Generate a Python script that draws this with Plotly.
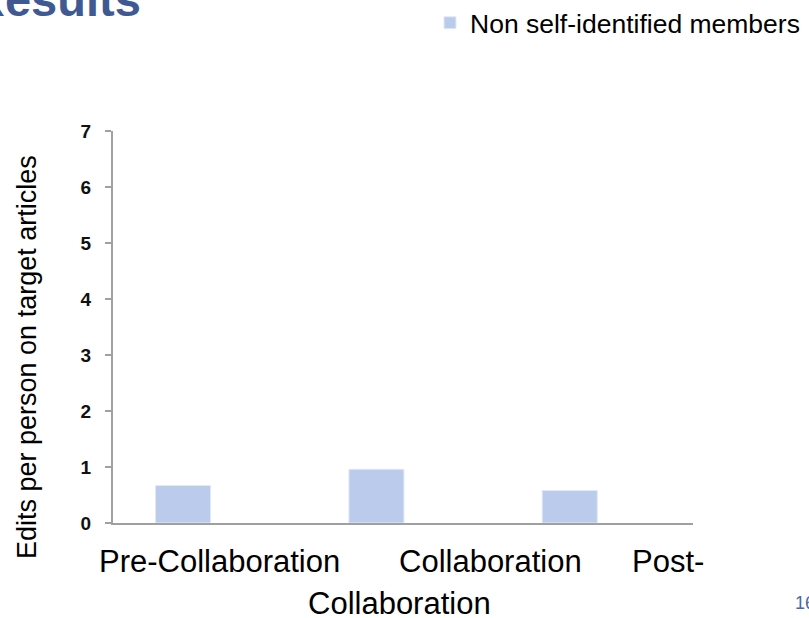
import plotly.graph_objects as go

# Edits per person on target articles, by collaboration phase
categories = ["Pre-Collaboration", "Collaboration", "Post-Collaboration"]
edits_non_self_identified = [0.67, 0.96, 0.58]
y_ticks = [0, 1, 2, 3, 4, 5, 6, 7]

W, H = 809, 618
L, R, T, B = 113, 116, 131, 95
PW, PH = W - L - R, H - T - B


def px_x(px):
    return (px - L) / PW


def px_y(py):
    return (H - B - py) / PH


FONT = "Liberation Sans, Arial, Helvetica, sans-serif"

fig = go.Figure()
fig.add_trace(go.Bar(
    x=categories,
    y=edits_non_self_identified,
    name="Non self-identified members",
    offset=-0.28,
    width=0.285,
    marker=dict(color="#BACBEB", line=dict(color="#E3EAF7", width=1)),
))

annotations = []
# Slide title (partly off the top-left corner)
annotations.append(dict(
    text="<b>Results</b>", x=px_x(-31), y=px_y(28), xref="paper", yref="paper",
    xanchor="left", yanchor="bottom", showarrow=False,
    font=dict(family=FONT, size=47, color="#3F5A93"),
))
# Y axis title
annotations.append(dict(
    text="Edits per person on target articles", x=px_x(27), y=px_y(357),
    xref="paper", yref="paper", xanchor="center", yanchor="middle",
    textangle=-90, showarrow=False,
    font=dict(family=FONT, size=27, color="#000000"),
))
# Phase labels, set as a wrapped centred text block below the axis
post_head, post_tail = categories[2].split("-", 1)
label_parts = [
    (categories[0], 219, 561),
    (categories[1], 490, 561),
    (post_head + "-", 668, 561),
    (post_tail, 399, 603),
]
for txt, cx, cy in label_parts:
    annotations.append(dict(
        text=txt, x=px_x(cx), y=px_y(cy), xref="paper", yref="paper",
        xanchor="center", yanchor="middle", showarrow=False,
        font=dict(family=FONT, size=31, color="#000000"),
    ))
# Slide number
annotations.append(dict(
    text="16", x=px_x(793), y=px_y(603), xref="paper", yref="paper",
    xanchor="left", yanchor="middle", showarrow=False,
    font=dict(family=FONT, size=18, color="#4A6AA3"),
))

fig.update_layout(
    width=W, height=H,
    margin=dict(l=L, r=R, t=T, b=B, autoexpand=False),
    paper_bgcolor="white", plot_bgcolor="white",
    showlegend=True,
    legend=dict(
        x=px_x(430), y=px_y(-1), xanchor="left", yanchor="top",
        font=dict(family=FONT, size=26.5, color="#000000"),
        bgcolor="rgba(0,0,0,0)", borderwidth=0,
    ),
    xaxis=dict(
        type="category", range=[-0.5, 2.5], showticklabels=False,
        showline=True, linecolor="#A0A0A0", linewidth=2,
        ticks="", showgrid=False, zeroline=False, fixedrange=True,
    ),
    yaxis=dict(
        range=[0, 7], tickvals=y_ticks, ticktext=[str(v) for v in y_ticks],
        showline=True, linecolor="#A0A0A0", linewidth=2,
        ticks="outside", ticklen=6, tickwidth=1.5, tickcolor="#A0A0A0",
        tickfont=dict(family=FONT, size=19, color="#111111", weight="bold"),
        ticklabelstandoff=10,
        showgrid=False, zeroline=False, fixedrange=True,
    ),
    annotations=annotations,
)

fig.write_html("out.html")
